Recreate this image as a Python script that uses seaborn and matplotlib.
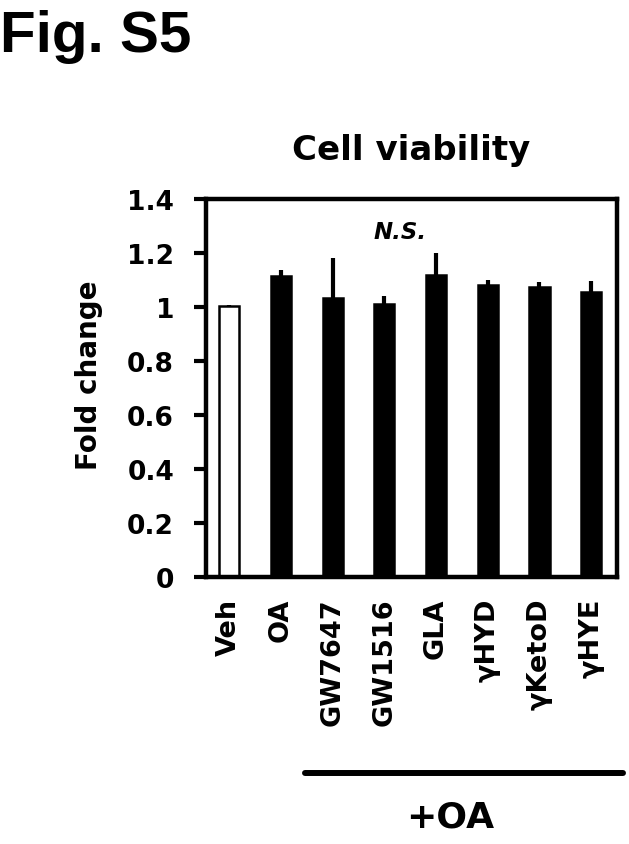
import matplotlib
matplotlib.use('Agg')
import matplotlib.pyplot as plt
import seaborn as sns

# values
groups = ["Veh", "OA", "GW7647", "GW1516", "GLA", "γHYD", "γKetoD", "γHYE"]
fold_change = [1.003, 1.114, 1.034, 1.011, 1.119, 1.082, 1.076, 1.057]
sem = [0.006, 0.025, 0.147, 0.030, 0.080, 0.018, 0.016, 0.040]
bar_colors = ["white"] + ["black"] * 7
y_ticks = [0, 0.2, 0.4, 0.6, 0.8, 1.0, 1.2, 1.4]
y_tick_labels = ["0", "0.2", "0.4", "0.6", "0.8", "1", "1.2", "1.4"]

sns.set_theme(style="white")
# chart text in the reference is a wide bold sans
plt.rcParams['font.family'] = ['DejaVu Sans']
plt.rcParams.update({
    'font.weight': 'bold',
    'text.color': 'black',
    'axes.labelcolor': 'black',
    'xtick.color': 'black',
    'ytick.color': 'black',
})

fig = plt.figure(figsize=(6.29, 8.45), dpi=100)
ax = fig.add_axes([0.3275, 0.316, 0.6535, 0.447])

sns.barplot(x=groups, y=fold_change, hue=groups, palette=bar_colors, legend=False,
            width=0.39, edgecolor="black", linewidth=1.8, ax=ax)
ax.errorbar(range(len(groups)), fold_change, yerr=[[0] * len(sem), sem],
            fmt="none", ecolor="black", elinewidth=3, capsize=0, zorder=1)

ax.set_xlim(-0.45, 7.5)
ax.set_ylim(0, 1.4)
ax.set_yticks(y_ticks)
ax.set_yticklabels(y_tick_labels, fontsize=19, fontweight="bold")
ax.tick_params(axis="y", direction="out", length=9, width=3, pad=14, left=True)
ax.tick_params(axis="x", length=0, pad=15)
for lbl in ax.get_xticklabels():
    lbl.set_rotation(90)
    lbl.set_fontsize(19.5)
    lbl.set_fontweight("bold")

for side in ["left", "right", "top", "bottom"]:
    ax.spines[side].set_visible(True)
    ax.spines[side].set_color("black")
    ax.spines[side].set_linewidth(3.2)

ax.set_ylabel("Fold change", fontsize=20, fontweight="bold")
ax.yaxis.set_label_coords(-0.25, 0.537)
ax.set_title("Cell viability", fontsize=24.5, fontweight="bold", pad=29)
ax.text(3.3, 1.28, "N.S.", fontsize=16.5, fontweight="bold", style="italic",
        ha="center", va="center")

fig.text(0.0, 1 - 52 / 845, "Fig. S5", fontsize=42, fontweight="bold",
         va="baseline", family=["Liberation Sans", "DejaVu Sans"])

# "+OA" bracket under the treated groups
fig.add_artist(plt.Line2D([305 / 629, 623 / 629], [1 - 774 / 845, 1 - 774 / 845],
                          color="black", linewidth=4.3))
fig.text(450 / 629, 1 - 818 / 845, "+OA", fontsize=26, fontweight="bold",
         ha="center", va="center")

fig.savefig("out.png", dpi=100, facecolor="white")
